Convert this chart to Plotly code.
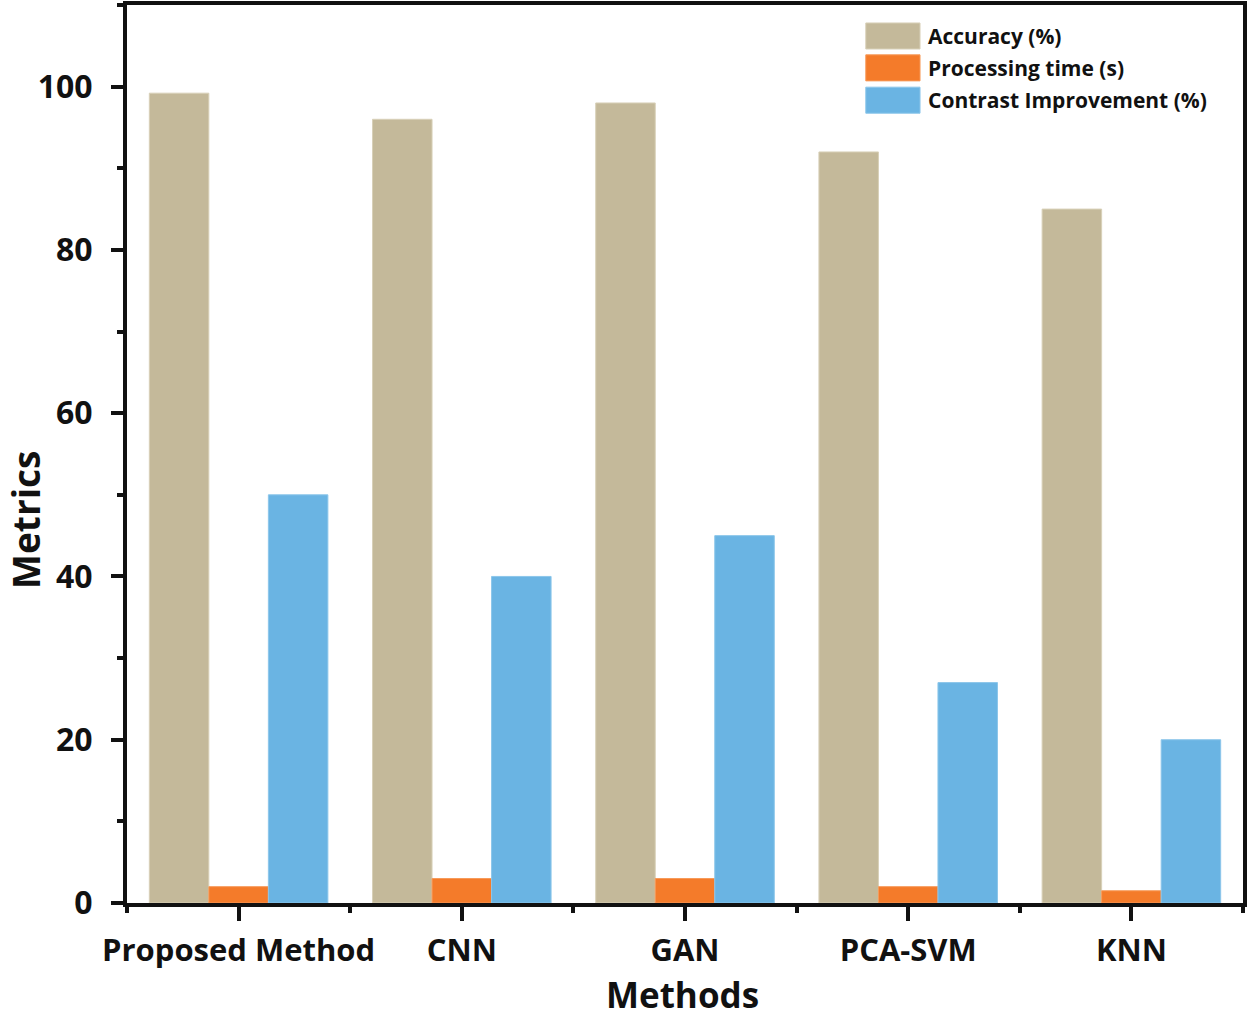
import plotly.graph_objects as go

methods = ["Proposed Method", "CNN", "GAN", "PCA-SVM", "KNN"]
accuracy = [99.2, 96, 98, 92, 85]
processing_time = [2, 3, 3, 2, 1.5]
contrast_improvement = [50, 40, 45, 27, 20]
series_names = ["Accuracy (%)", "Processing time (s)", "Contrast Improvement (%)"]
colors = ["#C4B99A", "#F47B2A", "#6AB4E3"]
edge_colors = ["#D8D0B8", "#F79A5A", "#8CC6EA"]
y_ticks = [0, 20, 40, 60, 80, 100]

FONT = "Open Sans"
xpos = list(range(len(methods)))

fig = go.Figure()
for name, vals, c, ec in zip(series_names, [accuracy, processing_time, contrast_improvement], colors, edge_colors):
    fig.add_trace(go.Bar(x=xpos, y=vals, name=name, marker=dict(color=c, line=dict(color=ec, width=1)),
                         showlegend=False))

fig.update_layout(
    width=1250, height=1018,
    margin=dict(l=127, r=7, t=5, b=115),
    paper_bgcolor="white", plot_bgcolor="white",
    barmode="group", bargap=0.2, bargroupgap=0,
    font=dict(family=FONT, color="#111111"),
)
fig.update_xaxes(
    automargin=False,
    range=[-0.5, 4.5], tickmode="array", tickvals=xpos, ticktext=methods,
    tickfont=dict(size=31, family=FONT, weight="bold"),
    showline=True, linecolor="#111111", linewidth=4, mirror=True,
    ticks="outside", ticklen=14, tickwidth=4, tickcolor="#111111",
    ticklabelstandoff=3,
    minor=dict(tickmode="linear", tick0=0.5, dtick=1, ticks="outside", ticklen=6, tickwidth=4, tickcolor="#111111"),
    showgrid=False, zeroline=False,
)
fig.update_yaxes(
    automargin=False,
    range=[0, 110], tickmode="array", tickvals=y_ticks,
    tickfont=dict(size=32, family=FONT, weight="bold"),
    showline=True, linecolor="#111111", linewidth=4, mirror=True,
    ticks="outside", ticklen=12, tickwidth=4, tickcolor="#111111",
    ticklabelstandoff=12,
    minor=dict(tickmode="linear", tick0=10, dtick=20, ticks="outside", ticklen=6, tickwidth=4, tickcolor="#111111"),
    showgrid=False, zeroline=False,
)

# axis titles
fig.add_annotation(xref="paper", yref="paper", x=0.498, y=-0.1024, text="Methods", showarrow=False,
                   xanchor="center", yanchor="middle", borderpad=0,
                   font=dict(size=35, family=FONT, color="#111111", weight="bold"))
fig.add_annotation(xref="paper", yref="paper", x=-0.0915, y=0.4265, text="Metrics", showarrow=False,
                   textangle=-90, xanchor="center", yanchor="middle", borderpad=0,
                   font=dict(size=37, family=FONT, color="#111111", weight="bold"))

# custom legend
row_y = [0.9655, 0.930, 0.894]
h = 0.0145
for name, c, ec, yy in zip(series_names, colors, edge_colors, row_y):
    fig.add_shape(type="rect", xref="paper", yref="paper", x0=0.662, x1=0.7106, y0=yy - h, y1=yy + h,
                  fillcolor=c, line=dict(color=ec, width=1))
    fig.add_annotation(xref="paper", yref="paper", x=0.716, y=yy, text=name, showarrow=False,
                       xanchor="left", yanchor="middle",
                       font=dict(size=21, family=FONT, color="#111111", weight="bold"))

fig.write_html("out.html", config={"displayModeBar": False},
               post_script="document.body.style.margin='0';")
